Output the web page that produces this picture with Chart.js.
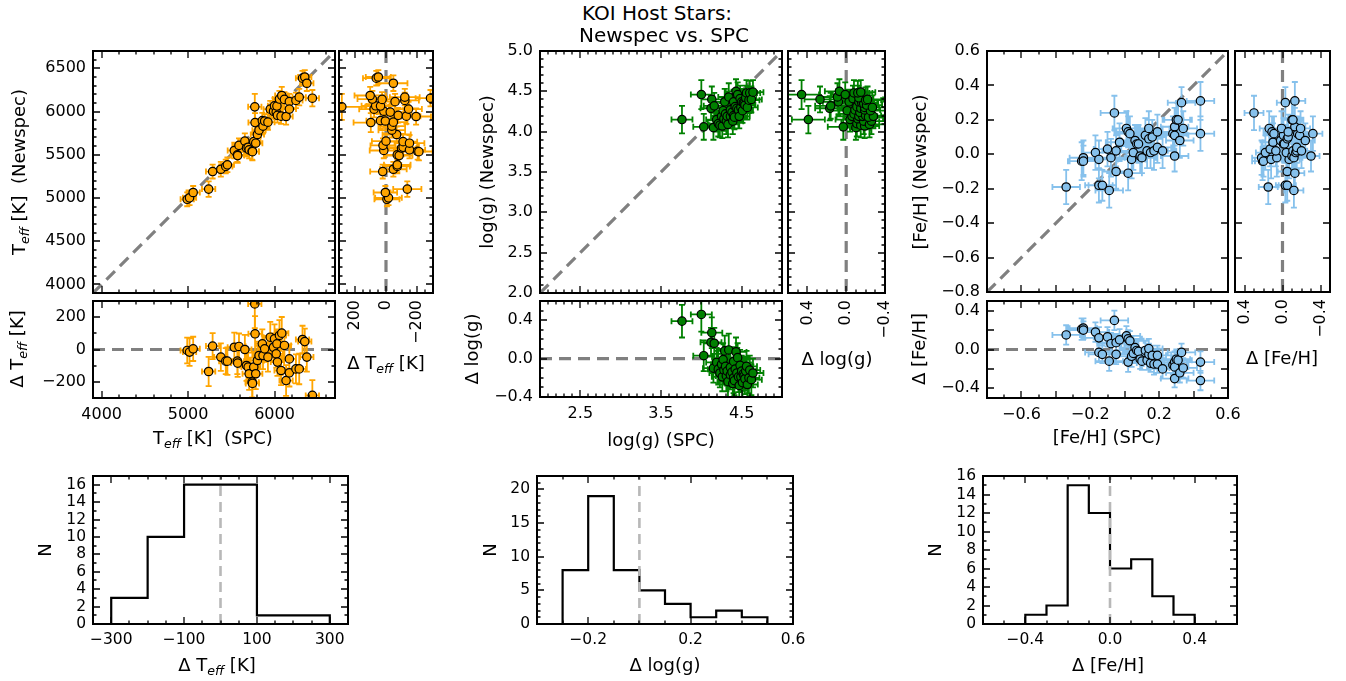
<!DOCTYPE html>
<html>
<head>
<meta charset="utf-8">
<script src="https://cdn.jsdelivr.net/npm/chart.js@4.4.1/dist/chart.umd.min.js"></script>
<style>
  body { margin: 0; background: #fff; }
  #fig { position: relative; width: 1346px; height: 681px; overflow: hidden; background: #fff;
         font-family: 'DejaVu Sans', sans-serif; color: #000; }
  #fig canvas { position: absolute; }
  .lab { position: absolute; white-space: pre; font-size: 18px; line-height: 1;
         transform: translate(-50%, -50%); }
  .lab.rot { transform: translate(-50%, -50%) rotate(-90deg); }
  .lab sub { font-size: 0.7em; font-style: italic; vertical-align: -0.35em; line-height: 0; }
</style>
</head>
<body>
<div id="fig"></div>
<script>
// ---- data: 47 KOI host stars, SPC vs Newspec ----
const TEFF_SPC = [4990, 5017, 5059, 5238, 5284, 5379, 5436, 5455, 5535, 5570,
                  5574, 5589, 5657, 5676, 5695, 5707, 5741, 5745, 5760, 5772,
                  5775, 5783, 5802, 5821, 5859, 5867, 5886, 5924, 5951, 5989,
                  6000, 6020, 6028, 6034, 6057, 6076, 6084, 6115, 6134, 6172,
                  6172, 6248, 6286, 6324, 6350, 6374, 6438];
const TEFF_NEW = [4984, 5001, 5063, 5102, 5305, 5332, 5364, 5383, 5549, 5498,
                  5490, 5608, 5657, 5577, 5586, 5557, 5539, 5535, 5651, 6054,
                  5872, 5633, 5734, 5784, 5894, 5830, 5890, 5877, 6027, 6003,
                  6066, 5993, 6063, 5956, 6144, 5946, 6185, 6140, 5942, 6114,
                  6028, 6128, 6166, 6386, 6399, 6327, 6154];
const TEFF_NEW_ERR = [80, 85, 75, 90, 80, 85, 80, 85, 90, 80,
                      85, 80, 90, 95, 90, 100, 95, 100, 90, 150,
                      110, 95, 90, 85, 90, 85, 80, 90, 95, 85,
                      90, 85, 90, 85, 95, 90, 100, 85, 95, 90,
                      85, 90, 95, 85, 80, 90, 95];
const TEFF_SPC_ERR = 77;

const LOGG_SPC = [3.76, 4.00, 4.03, 4.12, 4.13, 4.15, 4.16, 4.19, 4.21, 4.23,
                  4.25, 4.26, 4.27, 4.28, 4.29, 4.30, 4.31, 4.32, 4.33, 4.34,
                  4.36, 4.36, 4.38, 4.39, 4.40, 4.40, 4.41, 4.42, 4.43, 4.44,
                  4.45, 4.46, 4.47, 4.48, 4.49, 4.50, 4.51, 4.52, 4.53, 4.54,
                  4.55, 4.56, 4.57, 4.59, 4.60, 4.62, 4.64];
const LOGG_NEW = [4.15, 4.46, 4.06, 4.29, 4.40, 4.05, 4.32, 4.15, 4.10, 4.08,
                  4.19, 4.07, 4.26, 4.16, 4.37, 4.22, 4.13, 4.19, 4.09, 4.43,
                  4.19, 4.27, 4.24, 4.13, 4.37, 4.20, 4.18, 4.31, 4.50, 4.29,
                  4.46, 4.27, 4.19, 4.41, 4.30, 4.37, 4.26, 4.36, 4.35, 4.33,
                  4.42, 4.48, 4.30, 4.39, 4.48, 4.40, 4.49];
const LOGG_NEW_ERR = [0.17, 0.18, 0.16, 0.15, 0.16, 0.15, 0.16, 0.15, 0.16, 0.15,
                      0.16, 0.15, 0.17, 0.15, 0.16, 0.15, 0.16, 0.15, 0.16, 0.17,
                      0.15, 0.16, 0.15, 0.16, 0.15, 0.16, 0.15, 0.16, 0.15, 0.16,
                      0.15, 0.16, 0.15, 0.16, 0.15, 0.16, 0.15, 0.16, 0.15, 0.16,
                      0.15, 0.16, 0.15, 0.16, 0.15, 0.16, 0.15];
const LOGG_SPC_ERR = 0.13;

const FEH_SPC = [-0.34, -0.25, -0.24, -0.24, -0.17, -0.15, -0.15, -0.13, -0.10, -0.09,
                 -0.08, -0.06, -0.05, -0.05, -0.03, 0.01, 0.02, 0.02, 0.03, 0.04,
                 0.05, 0.06, 0.07, 0.08, 0.09, 0.10, 0.12, 0.13, 0.14, 0.14,
                 0.15, 0.16, 0.17, 0.19, 0.19, 0.22, 0.28, 0.29, 0.29, 0.29,
                 0.30, 0.31, 0.32, 0.33, 0.34, 0.44, 0.44];
const FEH_NEW = [-0.19, -0.04, -0.02, -0.04, 0.01, -0.03, -0.18, -0.18, 0.03, -0.21,
                 -0.02, 0.24, 0.02, -0.10, 0.07, 0.15, 0.13, -0.11, 0.12, -0.03,
                 0.01, 0.08, 0.06, 0.06, -0.01, -0.02, 0.11, 0.02, 0.09, 0.15,
                 0.01, 0.10, 0.02, 0.13, 0.04, 0.02, 0.12, 0.16, 0.11, -0.01,
                 0.20, 0.20, 0.08, 0.30, 0.15, 0.31, 0.12];
const FEH_NEW_ERR = [0.10, 0.11, 0.10, 0.09, 0.10, 0.11, 0.10, 0.09, 0.10, 0.10,
                     0.11, 0.10, 0.09, 0.10, 0.11, 0.10, 0.09, 0.10, 0.10, 0.11,
                     0.10, 0.09, 0.10, 0.11, 0.10, 0.09, 0.10, 0.10, 0.11, 0.10,
                     0.09, 0.10, 0.11, 0.10, 0.09, 0.10, 0.10, 0.11, 0.10, 0.09,
                     0.10, 0.11, 0.10, 0.09, 0.10, 0.11, 0.10];
const FEH_SPC_ERR = 0.08;

// histograms of the differences (Newspec - SPC)
const TEFF_HIST_EDGES = [-300, -200, -100, 0, 100, 200, 300];
const TEFF_HIST_COUNTS = [3, 10, 16, 16, 1, 1];
const LOGG_HIST_EDGES = [-0.3, -0.2, -0.1, 0.0, 0.1, 0.2, 0.3, 0.4, 0.5];
const LOGG_HIST_COUNTS = [8, 19, 8, 5, 3, 1, 2, 1];
const FEH_HIST_EDGES = [-0.4, -0.3, -0.2, -0.1, 0.0, 0.1, 0.2, 0.3, 0.4];
const FEH_HIST_COUNTS = [1, 2, 15, 12, 6, 7, 3, 1];

// tick labels
const TEFF_TICKS = [4000, 4500, 5000, 5500, 6000, 6500];
const TEFF_X_TICKS = [4000, 5000, 6000];
const DTEFF_TICKS = [-200, 0, 200];
const LOGG_TICKS = [2.0, 2.5, 3.0, 3.5, 4.0, 4.5, 5.0];
const LOGG_X_TICKS = [2.5, 3.5, 4.5];
const DLOGG_TICKS = [-0.4, 0.0, 0.4];
const FEH_TICKS = [-0.8, -0.6, -0.4, -0.2, 0.0, 0.2, 0.4, 0.6];
const FEH_X_TICKS = [-0.6, -0.2, 0.2, 0.6];
const DFEH_TICKS = [-0.4, 0.0, 0.4];
const HT_X_TICKS = [-300, -100, 100, 300];
const HT_Y_TICKS = [0, 2, 4, 6, 8, 10, 12, 14, 16];
const HG_X_TICKS = [-0.2, 0.2, 0.6];
const HG_Y_TICKS = [0, 5, 10, 15, 20];
const HF_X_TICKS = [-0.4, 0.0, 0.4];
const HF_Y_TICKS = [0, 2, 4, 6, 8, 10, 12, 14, 16];

// ---- helpers ----
const fig = document.getElementById('fig');
const FONT = "'DejaVu Sans'";
const ORANGE = '#ffa500', GREEN = '#008000', BLUE = '#86c1ec';

function steps(a, b, s) {
  const out = [];
  for (let v = a; v <= b + s / 1000; v += s) out.push(Math.round(v * 1e6) / 1e6);
  return out;
}
const minus = s => s.replace('-', '\u2212');
const fmtInt = v => minus(String(Math.round(v)));
const fmt1 = v => minus((Math.abs(v) < 1e-9 ? 0 : v).toFixed(1));

function axis(o, size, horizontal) {
  return {
    type: 'linear', min: o.min, max: o.max, reverse: !!o.reverse,
    position: horizontal ? 'bottom' : 'left',
    grid: { display: false, drawTicks: false },
    border: { display: false },
    ticks: {
      display: !o.hide, autoSkip: false, padding: 7, color: '#000',
      font: { family: FONT, size: o.fs || 16 },
      minRotation: o.rot || 0, maxRotation: o.rot || 0,
      callback: v => (o.fmt || fmtInt)(v)
    },
    afterBuildTicks: s => { s.ticks = o.labels.map(v => ({ value: v })); },
    afterFit: s => {
      if (horizontal) s.height = size; else s.width = size;
      s.paddingLeft = s.paddingRight = s.paddingTop = s.paddingBottom = 0;
    }
  };
}

// inward ticks on all four sides plus the box
function framePlugin(xo, yo) {
  return {
    id: 'frame',
    afterDraw(chart) {
      const { ctx, chartArea: a, scales: { x, y } } = chart;
      ctx.save();
      ctx.strokeStyle = '#000';
      ctx.lineWidth = 1.3;
      ctx.beginPath();
      const mark = (vals, len, horiz) => vals.forEach(v => {
        if (horiz) {
          const p = Math.round(x.getPixelForValue(v));
          if (p < a.left + 1 || p > a.right - 1) return;
          ctx.moveTo(p, a.bottom); ctx.lineTo(p, a.bottom - len);
          ctx.moveTo(p, a.top); ctx.lineTo(p, a.top + len);
        } else {
          const p = Math.round(y.getPixelForValue(v));
          if (p < a.top + 1 || p > a.bottom - 1) return;
          ctx.moveTo(a.left, p); ctx.lineTo(a.left + len, p);
          ctx.moveTo(a.right, p); ctx.lineTo(a.right - len, p);
        }
      });
      mark(xo.major || xo.labels, 7, true);
      mark(xo.minor || [], 3.5, true);
      mark(yo.major || yo.labels, 7, false);
      mark(yo.minor || [], 3.5, false);
      ctx.stroke();
      ctx.lineWidth = 2;
      ctx.strokeRect(a.left, a.top, a.width, a.height);
      ctx.restore();
    }
  };
}

// error bars drawn after the reference line and before the markers
function errPlugin(color) {
  return {
    id: 'errbars',
    afterDatasetDraw(chart, args) {
      if (args.index !== 1) return;
      const { ctx, chartArea: a, scales: { x, y } } = chart;
      ctx.save();
      ctx.beginPath();
      ctx.rect(a.left, a.top, a.width, a.height);
      ctx.clip();
      ctx.strokeStyle = color;
      ctx.lineWidth = 1.8;
      ctx.beginPath();
      chart.data.datasets[0].data.forEach(p => {
        const px = x.getPixelForValue(p.x), py = y.getPixelForValue(p.y);
        const x0 = x.getPixelForValue(p.x - p.xe), x1 = x.getPixelForValue(p.x + p.xe);
        const y0 = y.getPixelForValue(p.y - p.ye), y1 = y.getPixelForValue(p.y + p.ye);
        ctx.moveTo(x0, py); ctx.lineTo(x1, py);
        ctx.moveTo(px, y0); ctx.lineTo(px, y1);
        ctx.moveTo(x0, py - 3); ctx.lineTo(x0, py + 3);
        ctx.moveTo(x1, py - 3); ctx.lineTo(x1, py + 3);
        ctx.moveTo(px - 3, y0); ctx.lineTo(px + 3, y0);
        ctx.moveTo(px - 3, y1); ctx.lineTo(px + 3, y1);
      });
      ctx.stroke();
      ctx.restore();
    }
  };
}

function makeChart(box, xo, yo, datasets, plugins) {
  const [l, t, r, b] = box;
  const M = { l: 75, t: 14, r: 16, b: 64 };
  const c = document.createElement('canvas');
  c.width = r - l + M.l + M.r;
  c.height = b - t + M.t + M.b;
  c.style.left = (l - M.l) + 'px';
  c.style.top = (t - M.t) + 'px';
  fig.appendChild(c);
  return new Chart(c, {
    type: 'scatter',
    data: { datasets },
    options: {
      responsive: false, animation: false, events: [],
      layout: { padding: { left: 0, top: M.t, right: M.r, bottom: 0 } },
      plugins: { legend: { display: false }, tooltip: { enabled: false } },
      scales: { x: axis(xo, M.b, true), y: axis(yo, M.l, false) }
    },
    plugins: [framePlugin(xo, yo)].concat(plugins || [])
  });
}

function refLine(x0, y0, x1, y1, color, width, dash) {
  return {
    type: 'line', data: [{ x: x0, y: y0 }, { x: x1, y: y1 }],
    borderColor: color, borderWidth: width, borderDash: dash,
    pointRadius: 0, fill: false, tension: 0
  };
}

function points(data, color) {
  return {
    data, pointRadius: 4.2, pointBorderWidth: 1.2,
    pointBackgroundColor: color, pointBorderColor: '#000', showLine: false
  };
}

// three panels (main, side, bottom) for one parameter
function trio(spc, nw, nwErr, spcErr, color, boxes, ax) {
  const main = spc.map((v, i) => ({ x: v, y: nw[i], xe: spcErr, ye: nwErr[i] }));
  const bottom = spc.map((v, i) => ({ x: v, y: nw[i] - v, xe: spcErr, ye: nwErr[i] }));
  const side = spc.map((v, i) => ({ x: nw[i] - v, y: nw[i], xe: nwErr[i], ye: nwErr[i] }));
  const G = '#808080', W = 3.2, D = [12, 7];
  const { lo, hi, dlo, dhi } = ax;

  makeChart(boxes.main,
    Object.assign({ min: lo, max: hi, hide: true }, ax.mx),
    Object.assign({ min: lo, max: hi }, ax.my),
    [points(main, color), refLine(lo, lo, hi, hi, G, W, D)], [errPlugin(color)]);

  makeChart(boxes.side,
    Object.assign({ min: dlo, max: dhi, reverse: true, rot: 90 }, ax.sx),
    Object.assign({ min: lo, max: hi, hide: true }, ax.my),
    [points(side, color), refLine(0, hi, 0, lo, G, W, D)], [errPlugin(color)]);

  makeChart(boxes.bottom,
    Object.assign({ min: lo, max: hi }, ax.mx),
    Object.assign({ min: dlo, max: dhi }, ax.dy),
    [points(bottom, color), refLine(lo, 0, hi, 0, G, W, D)], [errPlugin(color)]);
}

function histogram(box, edges, counts, xo, yo) {
  const outline = [{ x: edges[0], y: 0 }];
  counts.forEach((c, i) => {
    outline.push({ x: edges[i], y: c });
    outline.push({ x: edges[i + 1], y: c });
  });
  outline.push({ x: edges[edges.length - 1], y: 0 });
  makeChart(box, xo, yo, [
    refLine(0, yo.min, 0, yo.max, '#b8b8b8', 2.6, [10, 6]),
    { type: 'line', data: outline, borderColor: '#000', borderWidth: 2.2,
      pointRadius: 0, fill: false, tension: 0 }
  ]);
}

// ---- Teff ----
trio(TEFF_SPC, TEFF_NEW, TEFF_NEW_ERR, TEFF_SPC_ERR, ORANGE,
  { main: [93, 51, 335, 293], side: [339, 51, 433, 293], bottom: [93, 301, 335, 398] },
  { lo: 3900, hi: 6700, dlo: -300, dhi: 300,
    mx: { labels: TEFF_X_TICKS, minor: steps(4000, 6600, 200) },
    my: { labels: TEFF_TICKS, minor: steps(4000, 6600, 100) },
    dy: { labels: DTEFF_TICKS, minor: steps(-300, 300, 100) },
    sx: { labels: DTEFF_TICKS, minor: steps(-300, 300, 50) } });

// ---- log(g) ----
trio(LOGG_SPC, LOGG_NEW, LOGG_NEW_ERR, LOGG_SPC_ERR, GREEN,
  { main: [540, 51, 782, 293], side: [788, 51, 885, 293], bottom: [540, 301, 782, 397] },
  { lo: 2.0, hi: 5.0, dlo: -0.4, dhi: 0.6,
    mx: { labels: LOGG_X_TICKS, minor: steps(2.0, 5.0, 0.1), fmt: fmt1 },
    my: { labels: LOGG_TICKS, minor: steps(2.0, 5.0, 0.1), fmt: fmt1 },
    dy: { labels: DLOGG_TICKS, minor: steps(-0.4, 0.6, 0.1), fmt: fmt1 },
    sx: { labels: DLOGG_TICKS, minor: steps(-0.4, 0.6, 0.1), fmt: fmt1 } });

// ---- [Fe/H] ----
trio(FEH_SPC, FEH_NEW, FEH_NEW_ERR, FEH_SPC_ERR, BLUE,
  { main: [987, 51, 1228, 292], side: [1235, 51, 1330, 292], bottom: [987, 301, 1228, 398] },
  { lo: -0.8, hi: 0.6, dlo: -0.5, dhi: 0.5,
    mx: { labels: FEH_X_TICKS, major: steps(-0.8, 0.6, 0.2), minor: steps(-0.8, 0.6, 0.1), fmt: fmt1 },
    my: { labels: FEH_TICKS, fmt: fmt1 },
    dy: { labels: DFEH_TICKS, major: steps(-0.4, 0.4, 0.2), fmt: fmt1 },
    sx: { labels: DFEH_TICKS, minor: steps(-0.5, 0.5, 0.1), fmt: fmt1 } });

// ---- histograms ----
histogram([93, 476, 348, 624], TEFF_HIST_EDGES, TEFF_HIST_COUNTS,
  { min: -350, max: 350, labels: HT_X_TICKS, minor: steps(-350, 350, 50), fs: 15.5 },
  { min: 0, max: 17, labels: HT_Y_TICKS, minor: steps(0, 17, 1), fs: 15.5 });
histogram([537, 476, 793, 624], LOGG_HIST_EDGES, LOGG_HIST_COUNTS,
  { min: -0.4, max: 0.6, labels: HG_X_TICKS, minor: steps(-0.4, 0.6, 0.1), fmt: fmt1, fs: 15.5 },
  { min: 0, max: 22, labels: HG_Y_TICKS, minor: steps(0, 22, 1), fs: 15.5 });
histogram([983, 476, 1237, 624], FEH_HIST_EDGES, FEH_HIST_COUNTS,
  { min: -0.6, max: 0.6, labels: HF_X_TICKS, minor: steps(-0.6, 0.6, 0.1), fmt: fmt1, fs: 15.5 },
  { min: 0, max: 16, labels: HF_Y_TICKS, minor: steps(0, 16, 1), fs: 15.5 });

// ---- text labels ----
function lab(html, cx, cy, rot, size) {
  const d = document.createElement('div');
  d.className = 'lab' + (rot ? ' rot' : '');
  d.innerHTML = html;
  d.style.left = cx + 'px';
  d.style.top = cy + 'px';
  if (size) d.style.fontSize = size + 'px';
  fig.appendChild(d);
}
const TE = 'T<sub>eff</sub>';
lab('KOI Host Stars:', 657, 13, false, 20);
lab('Newspec vs. SPC', 664, 35, false, 20);

lab(TE + ' [K]  (Newspec)', 19, 172, true);
lab('\u0394 ' + TE + ' [K]', 17, 349, true);
lab(TE + ' [K]  (SPC)', 213, 438);
lab('\u0394 ' + TE + ' [K]', 386, 363);

lab('log(g) (Newspec)', 487, 172, true);
lab('\u0394 log(g)', 472, 349, true);
lab('log(g) (SPC)', 661, 440);
lab('\u0394 log(g)', 837, 359);

lab('[Fe/H] (Newspec)', 920, 172, true);
lab('\u0394 [Fe/H]', 919, 349, true);
lab('[Fe/H] (SPC)', 1107, 437);
lab('\u0394 [Fe/H]', 1282, 358);

lab('N', 45, 550, true);
lab('N', 490, 550, true);
lab('N', 935, 550, true);
lab('\u0394 ' + TE + ' [K]', 217, 665);
lab('\u0394 log(g)', 665, 665);
lab('\u0394 [Fe/H]', 1108, 665);
</script>
</body>
</html>
